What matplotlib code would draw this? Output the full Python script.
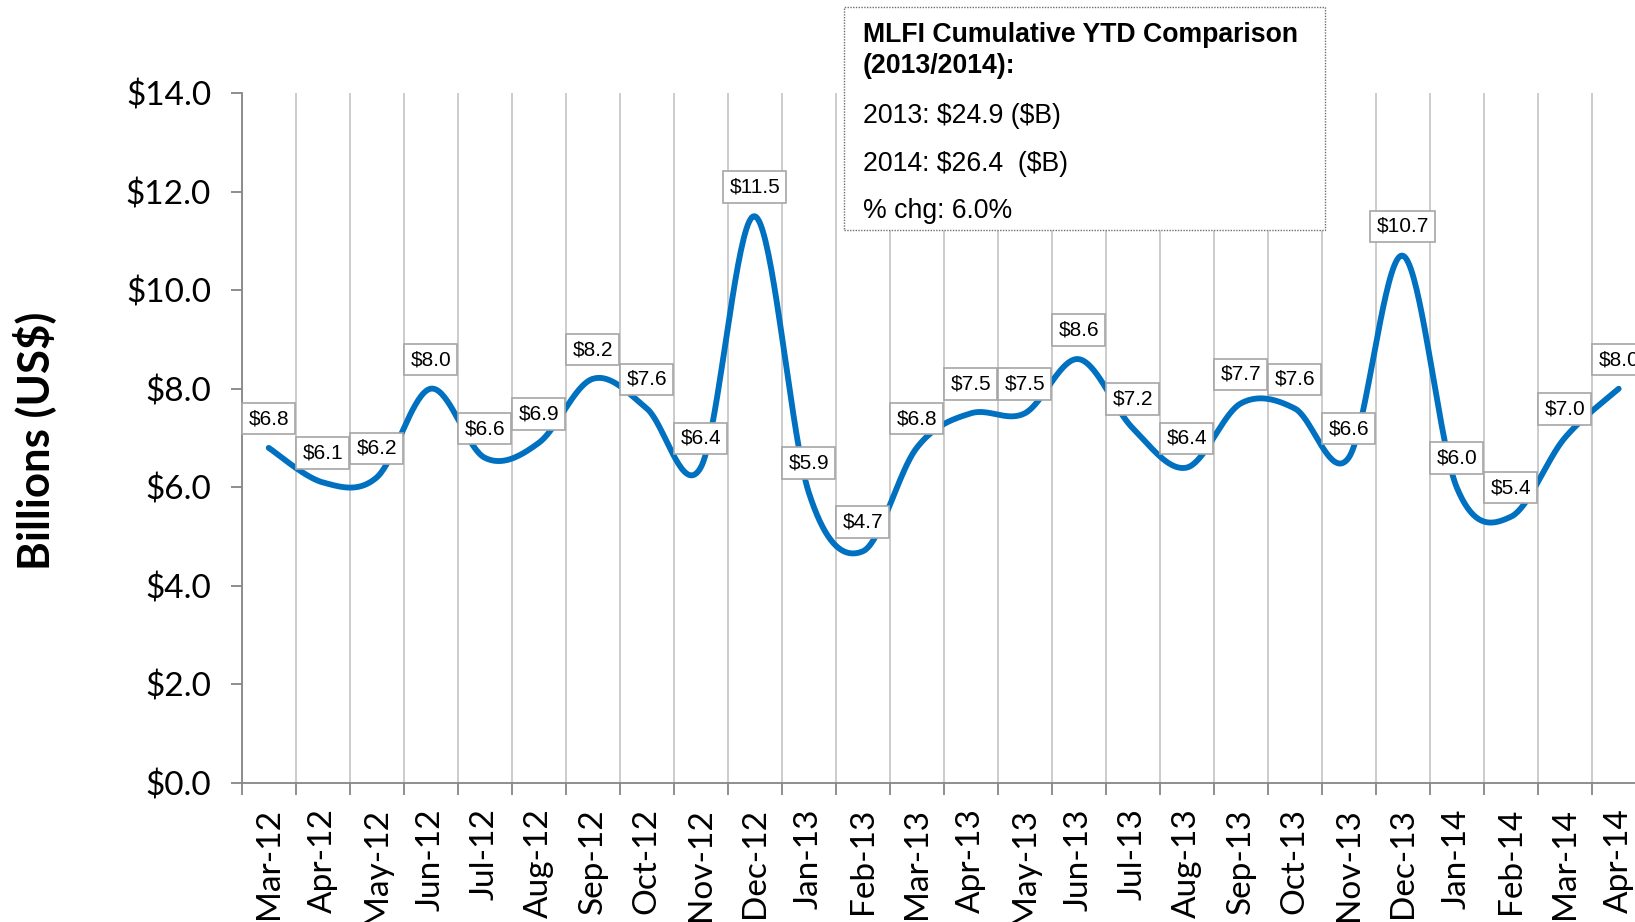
import numpy as np
import matplotlib
matplotlib.use("Agg")
import matplotlib.pyplot as plt
from matplotlib.patches import Rectangle

months = ["Mar-12", "Apr-12", "May-12", "Jun-12", "Jul-12", "Aug-12", "Sep-12",
          "Oct-12", "Nov-12", "Dec-12", "Jan-13", "Feb-13", "Mar-13", "Apr-13",
          "May-13", "Jun-13", "Jul-13", "Aug-13", "Sep-13", "Oct-13", "Nov-13",
          "Dec-13", "Jan-14", "Feb-14", "Mar-14", "Apr-14"]
values = [6.8, 6.1, 6.2, 8.0, 6.6, 6.9, 8.2, 7.6, 6.4, 11.5, 5.9, 4.7, 6.8,
          7.5, 7.5, 8.6, 7.2, 6.4, 7.7, 7.6, 6.6, 10.7, 6.0, 5.4, 7.0, 8.0]
yticks = [0, 2, 4, 6, 8, 10, 12, 14]
info_title = ["MLFI Cumulative YTD Comparison", "(2013/2014):"]
info_lines = ["2013: $24.9 ($B)", "2014: $26.4  ($B)", "% chg: 6.0%"]

W, H = 1635, 922
fig = plt.figure(figsize=(W / 100, H / 100), dpi=100)
ax = fig.add_axes([241.7 / W, 1 - 783 / H, 1404 / W, 690 / H])

# Excel-like smoothed line (Catmull-Rom as cubic Bezier)
x = np.arange(len(values), dtype=float)
y = np.array(values, dtype=float)
px = np.concatenate([[x[0]], x, [x[-1]]])
py = np.concatenate([[y[0]], y, [y[-1]]])
xs, ys = [], []
t = np.linspace(0, 1, 40)
for i in range(len(x) - 1):
    p0 = np.array([px[i + 1], py[i + 1]])
    p3 = np.array([px[i + 2], py[i + 2]])
    c1 = p0 + (np.array([px[i + 2], py[i + 2]]) - np.array([px[i], py[i]])) / 6
    c2 = p3 - (np.array([px[i + 3], py[i + 3]]) - np.array([px[i + 1], py[i + 1]])) / 6
    b = ((1 - t) ** 3)[:, None] * p0 + (3 * (1 - t) ** 2 * t)[:, None] * c1 + \
        (3 * (1 - t) * t ** 2)[:, None] * c2 + (t ** 3)[:, None] * p3
    xs.extend(b[:, 0]); ys.extend(b[:, 1])
ax.plot(xs, ys, color="#0070C0", lw=4.2, solid_capstyle="round", zorder=3, clip_on=False)

for i, v in enumerate(values):
    ax.annotate(f"${v:.1f}", (i, v), xytext=(0, 21), textcoords="offset points",
                ha="center", va="center", fontsize=15, family="Liberation Sans",
                color="black", zorder=5, annotation_clip=False,
                bbox=dict(boxstyle="square,pad=0.3", fc="white", ec="#A6A6A6", lw=1.2))

ax.set_xlim(-0.5, len(values) - 0.5)
ax.set_ylim(0, 14)
ax.set_yticks(yticks)
ax.set_yticklabels([f"${v:.1f}" for v in yticks], family="Lato", fontsize=24)
ax.set_xticks(x)
ax.set_xticklabels(months, rotation=90, family="Lato", fontsize=24, ha="center", va="top")
ax.set_xticks(np.arange(-0.5, len(values)), minor=True)
ax.tick_params(axis="x", which="major", length=0, pad=18)
ax.tick_params(axis="x", which="minor", length=8.5, width=1.3, color="#868686", direction="out")
ax.tick_params(axis="y", length=8, width=1.3, color="#868686", direction="out", pad=14)
ax.grid(which="minor", axis="x", color="#BFBFBF", lw=1.1, zorder=0)
for s in ["top", "right"]:
    ax.spines[s].set_visible(False)
for s in ["left", "bottom"]:
    ax.spines[s].set_color("#868686")
    ax.spines[s].set_linewidth(1.3)

fig.text(34 / W, 1 - 441 / H, "Billions (US$)", rotation=90, ha="center", va="center",
         family="Lato", fontweight="bold", fontsize=31.5, parse_math=False)

# info box
rect = Rectangle((844 / W, 1 - 230 / H), (1325 - 844) / W, (230 - 7) / H,
                 transform=fig.transFigure, fc="white", ec="#6F6F6F", lw=1.0,
                 ls=(0, (1, 1)), zorder=10)
fig.patches.append(rect)
baselines_title = [41.7, 72.7]
for txt, b in zip(info_title, baselines_title):
    fig.text(863 / W, 1 - b / H, txt, ha="left", va="baseline", family="Liberation Sans",
             fontweight="bold", fontsize=19.2, zorder=11, parse_math=False)
baselines_lines = [122.7, 171, 218.5]
for txt, b in zip(info_lines, baselines_lines):
    fig.text(863 / W, 1 - b / H, txt, ha="left", va="baseline", family="Liberation Sans",
             fontsize=19.2, zorder=11, parse_math=False)

fig.savefig("out.png", dpi=100)
